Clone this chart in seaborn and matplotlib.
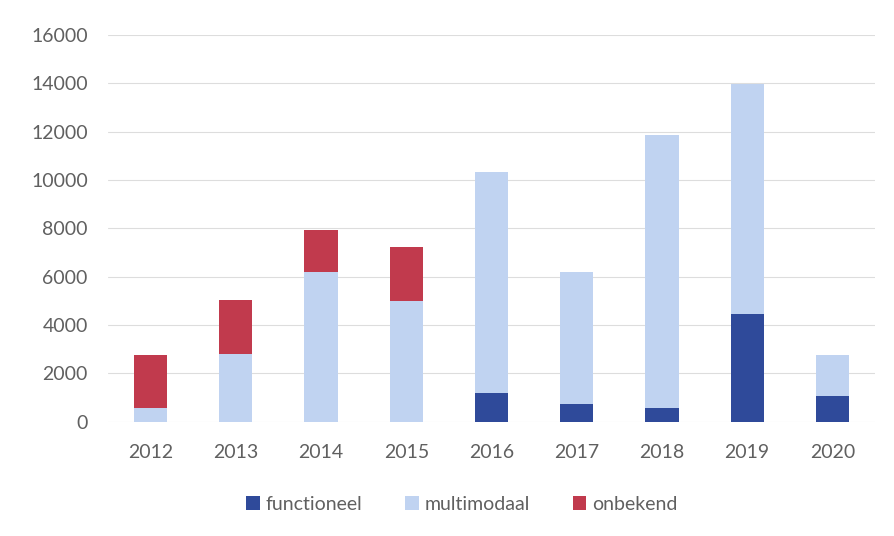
import matplotlib
matplotlib.use("Agg")
import matplotlib.pyplot as plt
from matplotlib.patches import Patch
import seaborn as sns
import pandas as pd
import numpy as np

years = ["2012", "2013", "2014", "2015", "2016", "2017", "2018", "2019", "2020"]
functioneel = [0, 0, 0, 0, 1170, 750, 560, 4450, 1080]
multimodaal = [580, 2790, 6200, 5000, 9150, 5430, 11300, 9510, 1690]
onbekend = [2180, 2250, 1740, 2230, 0, 0, 0, 0, 0]
series_names = ["functioneel", "multimodaal", "onbekend"]
colors = ["#2F4A9A", "#C0D3F1", "#C13A4D"]
yticks = [0, 2000, 4000, 6000, 8000, 10000, 12000, 14000, 16000]

sns.set_theme(style="white")
plt.rcParams["font.family"] = ["Lato", "DejaVu Sans"]

f = np.array(functioneel)
m = np.array(multimodaal)
o = np.array(onbekend)
df = pd.DataFrame({
    "year": years,
    "c1": f,
    "c2": f + m,
    "c3": f + m + o,
})

fig = plt.figure(figsize=(8.94, 5.36), dpi=100)
ax = fig.add_axes([108 / 894, 1 - 421.7 / 536, (875 - 108) / 894, (421.7 - 35) / 536])

for col, c in zip(["c3", "c2", "c1"], colors[::-1]):
    sns.barplot(data=df, x="year", y=col, color=c, width=0.39, ax=ax,
                saturation=1, linewidth=0, zorder=3)

ax.set_ylim(0, 16000)
ax.set_yticks(yticks)
ax.set_yticklabels([str(v) for v in yticks])
ax.set_xlabel("")
ax.set_ylabel("")
ax.grid(axis="y", color="#DDDDDD", linewidth=0.8, zorder=0)
ax.grid(axis="x", visible=False)
for s in ax.spines.values():
    s.set_visible(False)
ax.tick_params(axis="both", length=0, labelsize=14, labelcolor="#606060")
ax.tick_params(axis="y", pad=14.5)
ax.tick_params(axis="x", pad=16)

handles = [Patch(facecolor=c, edgecolor="none") for c in colors]
fig.legend(handles, series_names, loc="center", bbox_to_anchor=(462 / 894, 1 - 504 / 536),
           ncol=3, frameon=False, fontsize=14, labelcolor="#606060",
           handlelength=0.7, handleheight=0.7, handletextpad=0.3, columnspacing=2.2)

fig.savefig("out.png", dpi=100)
